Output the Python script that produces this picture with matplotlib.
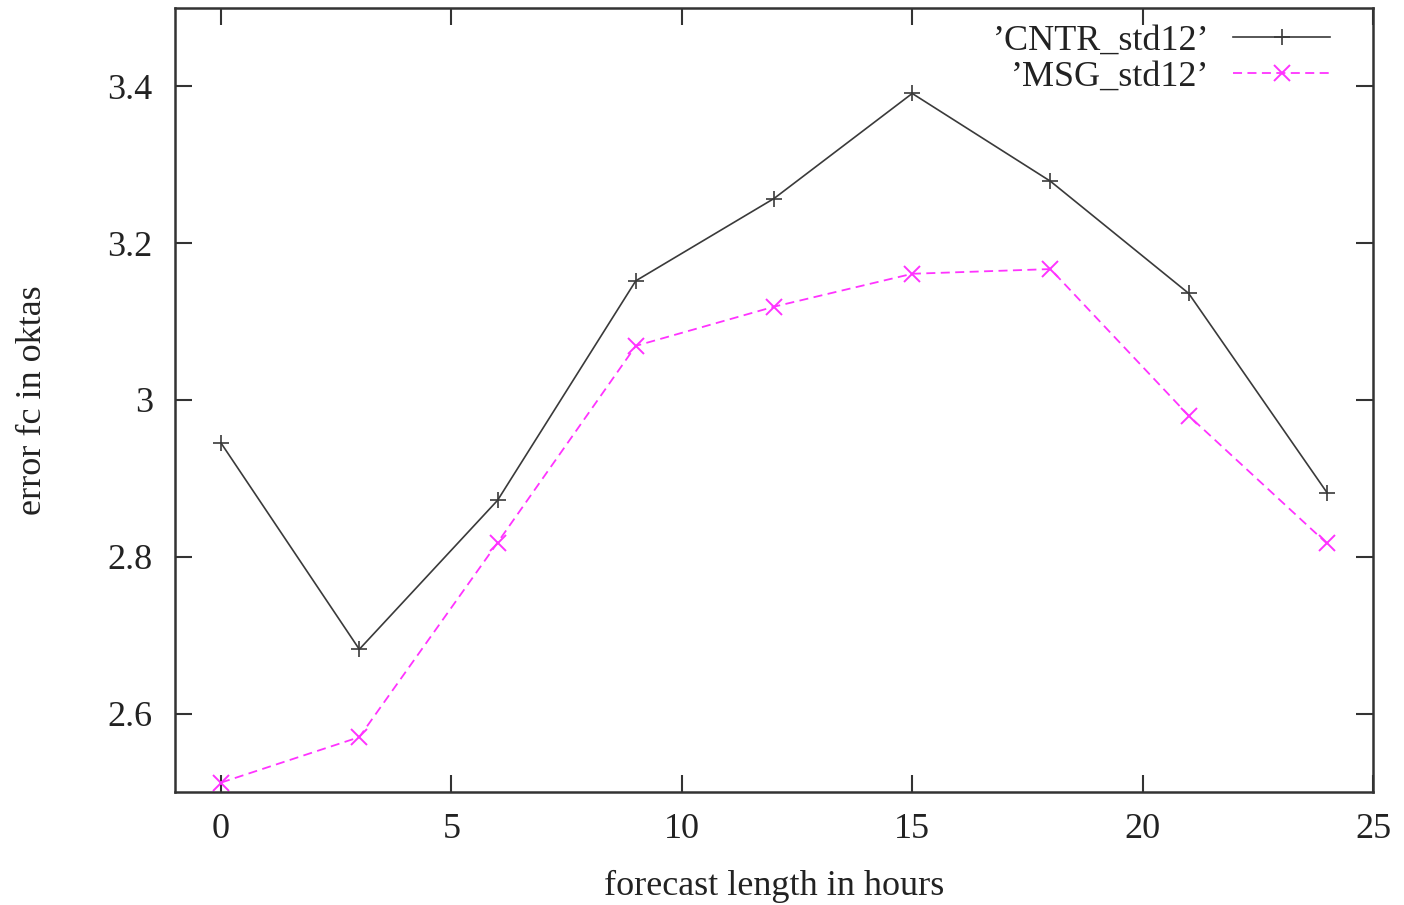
import matplotlib
matplotlib.use("Agg")
import matplotlib.pyplot as plt
from matplotlib.ticker import FuncFormatter, MultipleLocator

# forecast lengths (hours) and error standard deviations (oktas)
hours = [0, 3, 6, 9, 12, 15, 18, 21, 24]
cntr_std12 = [2.945, 2.682, 2.872, 3.152, 3.257, 3.391, 3.279, 3.136, 2.882]
msg_std12 = [2.512, 2.570, 2.818, 3.069, 3.119, 3.161, 3.167, 2.980, 2.817]

series_labels = ["\u2019CNTR_std12\u2019", "\u2019MSG_std12\u2019"]
x_label = "forecast length in hours"
y_label = "error fc in oktas"

FS = 26
plt.rcParams["font.family"] = ["Liberation Serif", "DejaVu Serif"]
plt.rcParams["font.size"] = FS

fig = plt.figure(figsize=(14.04, 9.05), dpi=100)
ax = fig.add_axes([175 / 1404, 1 - 792 / 905, (1373 - 175) / 1404, (792 - 8) / 905])

ax.plot(hours, cntr_std12, color="#3a3a3a", lw=1.2, marker="+", ms=11,
        mew=1.2, label=series_labels[0])
ax.plot(hours, msg_std12, color="#ff33ff", lw=1.3, ls=(0, (5, 3)), marker="x",
        ms=11, mew=1.4, label=series_labels[1])

ax.set_xlim(-1, 25)
ax.set_ylim(2.5, 3.5)
ax.xaxis.set_major_locator(MultipleLocator(5))
ax.set_yticks([2.6, 2.8, 3.0, 3.2, 3.4])
ax.yaxis.set_major_formatter(FuncFormatter(lambda v, p: f"{v:g}"))
ax.tick_params(direction="in", length=12, width=1.5, color="#333333",
               top=True, right=True, labelsize=FS, labelcolor="#222222")
ax.tick_params(axis="x", pad=15)
ax.tick_params(axis="y", pad=16)
for s in ax.spines.values():
    s.set_linewidth(1.8)
    s.set_color("#333333")

ax.set_xlabel(x_label, fontsize=FS, color="#222222", labelpad=17)
ax.set_ylabel(y_label, fontsize=FS, color="#222222", labelpad=42)

leg = ax.legend(loc="upper right", frameon=False, markerfirst=False,
                handlelength=2.7, fontsize=FS, labelspacing=0.08,
                bbox_to_anchor=(0.978, 1.0), borderaxespad=0.05,
                handletextpad=0.65)
for t in leg.get_texts():
    t.set_color("#222222")

fig.savefig("out.png", dpi=100)
